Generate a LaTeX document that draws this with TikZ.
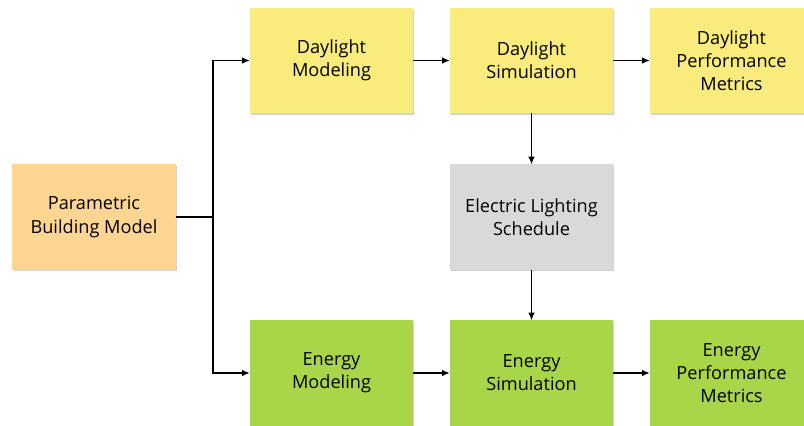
\documentclass[tikz,border=0pt]{standalone}
\usepackage{fontspec}
\setmainfont{Open Sans}
\usetikzlibrary{arrows.meta,shadows}
\definecolor{orangebox}{HTML}{FFD592}
\definecolor{yellowbox}{HTML}{F9EC7D}
\definecolor{greenbox}{HTML}{A8D648}
\definecolor{greybox}{HTML}{D9D9D9}

\begin{document}
\begin{tikzpicture}[x=0.03cm, y=-0.03cm,
    box/.style={minimum width=4.89cm, minimum height=3.15cm, align=center, inner sep=0pt,
      font=\fontsize{15.5}{19.8}\selectfont,
      drop shadow={opacity=0.35, shadow xshift=1.2pt, shadow yshift=-1.5pt}},
    link/.style={-{Latex[length=6.5pt,width=5.5pt]}, line width=1pt}]
  \useasboundingbox (0,0) rectangle (804,426);
  	\node[box, fill=orangebox] (param) at (94,217) {Parametric\\Building Model};
  	\node[box, fill=yellowbox] (dlmod) at (331.5,60.5) {Daylight\\Modeling};
  	\node[box, fill=yellowbox] (dlsim) at (531.5,60.5) {Daylight\\Simulation};
  	\node[box, fill=yellowbox] (dlperf) at (731.5,60.5) {Daylight\\Performance\\Metrics};
  	\node[box, fill=greybox] (elec) at (531.5,217) {Electric Lighting\\Schedule};
  	\node[box, fill=greenbox] (enmod) at (331.5,373) {Energy\\Modeling};
  	\node[box, fill=greenbox] (ensim) at (531.5,373) {Energy\\Simulation};
  	\node[box, fill=greenbox] (enperf) at (731.5,373) {Energy\\Performance\\Metrics};
  	\coordinate (bus) at (213,217);
	\draw[line width=1pt] (param.east) -- (bus);
	\draw[link] (bus) |- (dlmod.west);
	\draw[link] (bus) |- (enmod.west);
	\draw[link] (dlmod) -- (dlsim);
	\draw[link] (dlsim) -- (dlperf);
	\draw[link] (dlsim) -- (elec);
	\draw[link] (elec) -- (ensim);
	\draw[link] (enmod) -- (ensim);
	\draw[link] (ensim) -- (enperf);
\end{tikzpicture}
\end{document}
